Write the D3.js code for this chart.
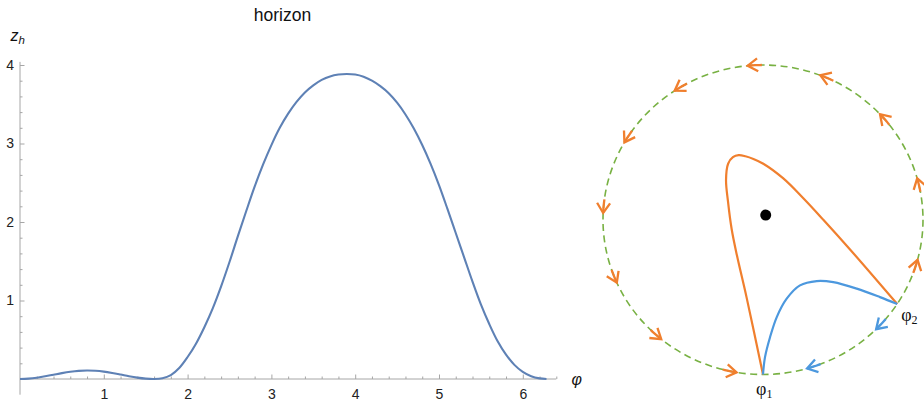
<!DOCTYPE html>
<html>
<head>
<meta charset="utf-8">
<script src="https://cdn.jsdelivr.net/npm/d3@7"></script>
<style>
  html, body { margin: 0; padding: 0; background: #fff; }
  svg { display: block; }
</style>
</head>
<body>
<svg id="chart" width="924" height="407"></svg>
<script>
// ---- horizon height z_h as a function of the angle φ ----
const phiValues = [0, 0.1, 0.2, 0.3, 0.4, 0.5, 0.6, 0.7, 0.8, 0.9,
  1.0, 1.1, 1.2, 1.3, 1.4, 1.5, 1.6, 1.7, 1.8, 1.9,
  2.0, 2.1, 2.2, 2.3, 2.4, 2.5, 2.6, 2.7, 2.8, 2.9,
  3.0, 3.1, 3.2, 3.3, 3.4, 3.5, 3.6, 3.7, 3.8, 3.9,
  4.0, 4.1, 4.2, 4.3, 4.4, 4.5, 4.6, 4.7, 4.8, 4.9,
  5.0, 5.1, 5.2, 5.3, 5.4, 5.5, 5.6, 5.7, 5.8, 5.9,
  6.0, 6.1, 6.2, 6.283];
const zhValues = [0, 0.005, 0.017, 0.035, 0.055, 0.075, 0.092, 0.104, 0.109, 0.105,
  0.094, 0.077, 0.057, 0.036, 0.018, 0.005, 0.0, 0.01, 0.05, 0.14,
  0.28, 0.45, 0.66, 0.90, 1.18, 1.49, 1.82, 2.14, 2.45, 2.73,
  2.98, 3.20, 3.38, 3.53, 3.65, 3.74, 3.81, 3.855, 3.878, 3.885,
  3.878, 3.85, 3.80, 3.73, 3.64, 3.52, 3.37, 3.19, 2.98, 2.74,
  2.47, 2.17, 1.86, 1.55, 1.24, 0.95, 0.70, 0.48, 0.31, 0.18,
  0.09, 0.035, 0.008, 0];

const xTickLabels = [1, 2, 3, 4, 5, 6];
const yTickLabels = [1, 2, 3, 4];

// ---- sketch on the unit circle (coordinates in circle units) ----
const orangePath = [[0, -1], [-0.103, -0.500], [-0.163, -0.230], [-0.196, -0.060],
  [-0.219, 0.120], [-0.231, 0.256], [-0.218, 0.362], [-0.188, 0.404], [-0.152, 0.417],
  [-0.110, 0.410], [-0.060, 0.393], [0.002, 0.362], [0.127, 0.267], [0.252, 0.139],
  [0.377, 0.0], [0.544, -0.192], [0.839, -0.545]];
const bluePath = [[0, -1], [0.0125, -0.888], [0.044, -0.759], [0.086, -0.629],
  [0.148, -0.510], [0.231, -0.424], [0.336, -0.396], [0.439, -0.403],
  [0.586, -0.445], [0.731, -0.500], [0.839, -0.545]];
const centerDot = [0.017, 0.03];
// arrow tips on the circle, angles in degrees
const orangeArrowAngles = [-15, 15.5, 43, 69, 95.5, 123.5, 150, 177.5, 204, 230.5, 260.5];
const blueArrowAngles = [-45, -74];
const pointLabels = [
  { name: "φ", sub: "1", angle: -90 },
  { name: "φ", sub: "2", angle: -33 }
];

const svg = d3.select("#chart");

const plotBlue = "#5E81B5";
const orange = "#F07F2E";
const skyBlue = "#4C98DE";
const green = "#78B143";
const axisGray = "#a6a6a6";
const textColor = "#222";

// ================= left: line plot =================
const x = d3.scaleLinear().domain([0, 6.4]).range([20, 556.3]);
const y = d3.scaleLinear().domain([0, 4]).range([379, 65]);

const left = svg.append("g");

// axis lines
left.append("line")
  .attr("x1", x(0)).attr("x2", x(6.4))
  .attr("y1", y(0)).attr("y2", y(0))
  .attr("stroke", axisGray).attr("stroke-width", 1);
left.append("line")
  .attr("x1", x(0)).attr("x2", x(0))
  .attr("y1", y(-0.2)).attr("y2", y(4.04))
  .attr("stroke", axisGray).attr("stroke-width", 1);

const xMinor = d3.range(1, 33).map(i => i * 0.2).filter(v => Math.abs(v - Math.round(v)) > 1e-6);
const yMinor = d3.range(1, 21).map(i => i * 0.2).filter(v => Math.abs(v - Math.round(v)) > 1e-6);

function styleAxis(g) {
  g.select(".domain").remove();
  g.selectAll(".tick line").attr("stroke", axisGray).attr("stroke-width", 1);
  g.selectAll(".tick text")
    .attr("fill", textColor)
    .style("font-family", "'Liberation Sans', Arial, sans-serif")
    .style("font-size", "14px");
}

left.append("g")
  .attr("transform", `translate(0,${y(0)})`)
  .call(d3.axisBottom(x).tickValues(xMinor).tickSizeInner(-2.5).tickSizeOuter(0).tickFormat(""))
  .call(styleAxis);
left.append("g")
  .attr("transform", `translate(0,${y(0)})`)
  .call(d3.axisBottom(x).tickValues(xTickLabels).tickSizeInner(-4.5).tickSizeOuter(0)
    .tickPadding(9.6).tickFormat(d3.format("d")))
  .call(styleAxis);

left.append("g")
  .attr("transform", `translate(${x(0)},0)`)
  .call(d3.axisLeft(y).tickValues(yMinor).tickSizeInner(-2.5).tickSizeOuter(0).tickFormat(""))
  .call(styleAxis);
left.append("g")
  .attr("transform", `translate(${x(0)},0)`)
  .call(d3.axisLeft(y).tickValues(yTickLabels).tickSizeInner(-4.5).tickSizeOuter(0)
    .tickPadding(6).tickFormat(d3.format("d")))
  .call(styleAxis);

// curve
const series = phiValues.map((p, i) => [p, zhValues[i]]);
left.append("path")
  .datum(series)
  .attr("fill", "none")
  .attr("stroke", plotBlue)
  .attr("stroke-width", 2.1)
  .attr("stroke-linejoin", "round")
  .attr("d", d3.line().x(d => x(d[0])).y(d => y(d[1])).curve(d3.curveCatmullRom.alpha(0.5)));

// title and axis labels
left.append("text")
  .attr("x", 282.5).attr("y", 21)
  .attr("text-anchor", "middle")
  .attr("fill", "#111")
  .style("font-family", "'Liberation Sans', Arial, sans-serif")
  .style("font-size", "17.5px")
  .text("horizon");

const zLabel = left.append("text")
  .attr("x", 10.5).attr("y", 41)
  .attr("fill", "#111")
  .style("font-family", "'Liberation Sans', Arial, sans-serif")
  .style("font-style", "italic")
  .style("font-size", "16px");
zLabel.append("tspan").text("z");
zLabel.append("tspan").attr("dy", 3).style("font-size", "11.5px").text("h");

left.append("text")
  .attr("x", 571.5).attr("y", 384.5)
  .attr("fill", "#111")
  .style("font-family", "'Liberation Sans', Arial, sans-serif")
  .style("font-style", "italic")
  .style("font-size", "16px")
  .text("φ");

// ================= right: sketch on the circle =================
const ux = d3.scaleLinear().domain([-1, 1]).range([603, 923]);
const uy = d3.scaleLinear().domain([-1, 1]).range([374.5, 65]);
const rx = (ux(1) - ux(-1)) / 2;
const ry = (uy(-1) - uy(1)) / 2;

const right = svg.append("g");

right.append("ellipse")
  .attr("cx", ux(0)).attr("cy", uy(0))
  .attr("rx", rx).attr("ry", ry)
  .attr("fill", "none")
  .attr("stroke", green)
  .attr("stroke-width", 1.6)
  .attr("stroke-dasharray", "7,4.5");

const uLine = d3.line().x(d => ux(d[0])).y(d => uy(d[1])).curve(d3.curveCatmullRom.alpha(0.5));

right.append("path")
  .datum(orangePath)
  .attr("fill", "none")
  .attr("stroke", orange)
  .attr("stroke-width", 2.2)
  .attr("stroke-linejoin", "round")
  .attr("d", uLine);

right.append("path")
  .datum(bluePath)
  .attr("fill", "none")
  .attr("stroke", skyBlue)
  .attr("stroke-width", 2.2)
  .attr("stroke-linejoin", "round")
  .attr("d", uLine);

right.append("circle")
  .attr("cx", ux(centerDot[0])).attr("cy", uy(centerDot[1]))
  .attr("r", 5.5)
  .attr("fill", "#000");

// arrows travelling along the circle: sign +1 counter-clockwise, -1 clockwise
function drawArrows(angles, sign, color) {
  const g = right.append("g")
    .attr("fill", "none")
    .attr("stroke", color)
    .attr("stroke-width", 2.3)
    .attr("stroke-linecap", "butt")
    .attr("stroke-linejoin", "miter");
  angles.forEach(a => {
    const t = a * Math.PI / 180;
    const px = ux(Math.cos(t)), py = uy(Math.sin(t));
    let dx = -Math.sin(t) * rx * sign, dy = -Math.cos(t) * ry * sign;
    const len = Math.hypot(dx, dy);
    dx /= len; dy /= len;
    const nx = -dy, ny = dx;
    // shaft along the arc behind the tip
    const span = 14 / ((rx + ry) / 2);
    const arcPts = d3.range(0, 7).map(i => {
      const tt = t - sign * span * (1 - i / 6);
      return [Math.cos(tt), Math.sin(tt)];
    });
    g.append("path")
      .attr("d", d3.line().x(d => ux(d[0])).y(d => uy(d[1]))(arcPts));
    // open head
    g.append("path")
      .attr("d", `M${px - 10 * dx + 6.5 * nx},${py - 10 * dy + 6.5 * ny}L${px},${py}L${px - 10 * dx - 6.5 * nx},${py - 10 * dy - 6.5 * ny}`);
  });
}
drawArrows(orangeArrowAngles, 1, orange);
drawArrows(blueArrowAngles, -1, skyBlue);

// point labels
const labelOffsets = { "1": [-7, 20], "2": [4, 16.5] };
pointLabels.forEach(l => {
  const t = l.angle * Math.PI / 180;
  const off = labelOffsets[l.sub];
  const txt = right.append("text")
    .attr("x", ux(Math.cos(t)) + off[0])
    .attr("y", uy(Math.sin(t)) + off[1])
    .attr("fill", "#111")
    .style("font-family", "'Liberation Serif', 'Times New Roman', serif")
    .style("font-size", "18px");
  txt.append("tspan").text(l.name);
  txt.append("tspan").attr("dy", 3).style("font-size", "12px").text(l.sub);
});
</script>
</body>
</html>
